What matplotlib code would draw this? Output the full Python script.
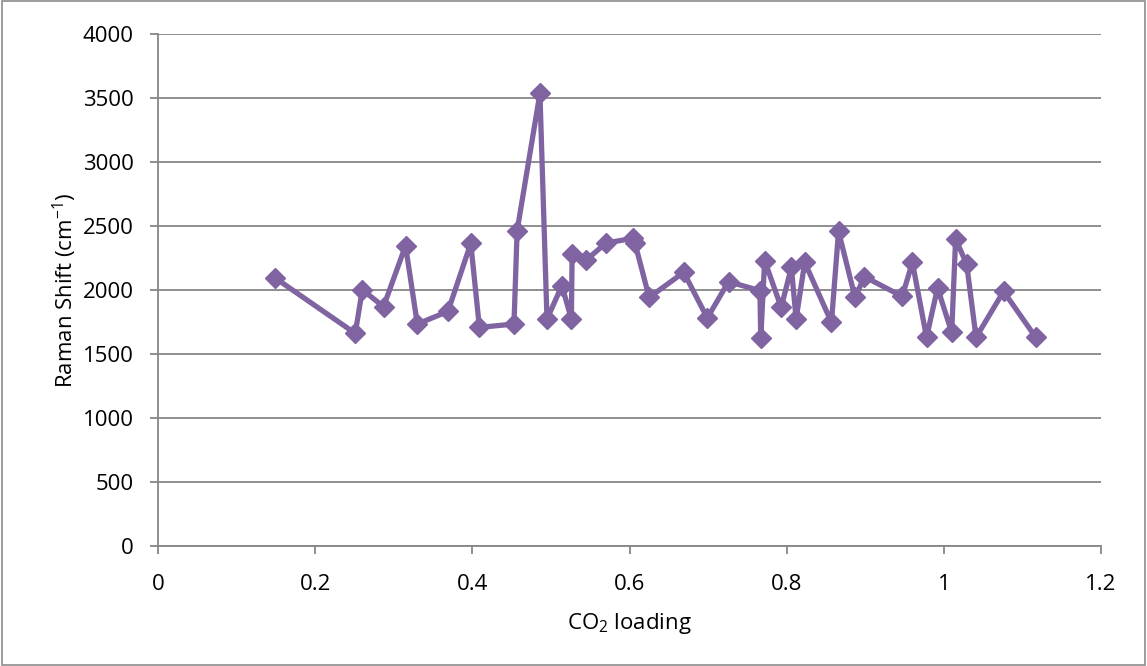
import matplotlib.pyplot as plt
from matplotlib.patches import Rectangle

# CO2 loading vs Raman shift
co2_loading = [0.149, 0.251, 0.260, 0.287, 0.315, 0.330, 0.369, 0.398, 0.409,
               0.453, 0.457, 0.486, 0.495, 0.514, 0.526, 0.527, 0.545, 0.570,
               0.604, 0.607, 0.625, 0.669, 0.699, 0.726, 0.766, 0.767, 0.772,
               0.793, 0.806, 0.812, 0.823, 0.857, 0.866, 0.887, 0.899, 0.947,
               0.960, 0.978, 0.992, 1.010, 1.015, 1.029, 1.041, 1.076, 1.117]
raman_shift = [2094, 1661, 2002, 1870, 2346, 1734, 1833, 2364, 1708,
               1734, 2463, 3536, 1773, 2034, 1773, 2281, 2234, 2367,
               2403, 2365, 1942, 2138, 1781, 2065, 1995, 1622, 2229,
               1864, 2177, 1773, 2216, 1747, 2458, 1942, 2104, 1950,
               2216, 1630, 2016, 1669, 2398, 2203, 1630, 1989, 1630]

xticks = [0, 0.2, 0.4, 0.6, 0.8, 1, 1.2]
yticks = [0, 500, 1000, 1500, 2000, 2500, 3000, 3500, 4000]

plt.rcParams['font.family'] = ['Open Sans', 'DejaVu Sans']
plt.rcParams['mathtext.fontset'] = 'custom'
plt.rcParams['mathtext.rm'] = 'Open Sans'

fig = plt.figure(figsize=(11.47, 6.66), dpi=100)
ax = fig.add_axes([158 / 1147, 1 - 546 / 666, (1101 - 158) / 1147, (546 - 34) / 666])

grid_col = '#868686'
ax.plot(co2_loading, raman_shift, color='#8064A2', lw=3.8, marker='D',
        markersize=10.5, zorder=3)

ax.set_xlim(0, 1.2)
ax.set_ylim(0, 4000)
ax.set_xticks(xticks)
ax.set_xticklabels(['0', '0.2', '0.4', '0.6', '0.8', '1', '1.2'])
ax.set_yticks(yticks)
ax.yaxis.grid(True, color=grid_col, lw=1.3)
ax.set_axisbelow(True)

for s in ['top', 'right']:
    ax.spines[s].set_visible(False)
for s in ['left', 'bottom']:
    ax.spines[s].set_color(grid_col)
    ax.spines[s].set_linewidth(1.3)
ax.tick_params(axis='both', colors=grid_col, labelcolor='black', labelsize=16,
               length=5.5, width=1.3)
ax.tick_params(axis='y', pad=12)
ax.tick_params(axis='x', pad=15)

ax.set_xlabel(r'CO$_\mathrm{2}$ loading', fontsize=16, labelpad=11)
ax.set_ylabel(r'Raman Shift (cm$^\mathrm{-1}$)', fontsize=16, labelpad=3)

# outer chart border
fig.patches.append(Rectangle((0.002, 0.002), 0.996, 0.996, transform=fig.transFigure,
                             fill=False, edgecolor='#8c8c8c', lw=1.2))

fig.savefig('out.png', dpi=100)
